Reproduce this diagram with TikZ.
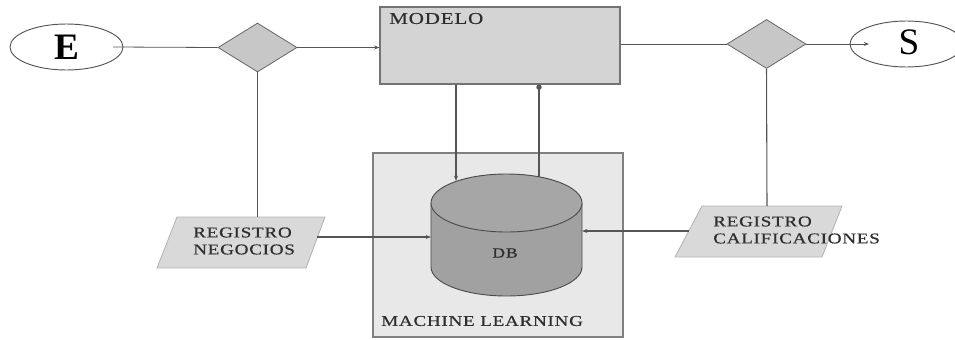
\documentclass[tikz,border=0pt]{standalone}
\usepackage{fontspec}
\setmainfont{Liberation Serif}
\newfontfamily\lbl[LetterSpace=4,FakeBold=0.5]{Liberation Serif}
\usetikzlibrary{shapes.geometric,arrows.meta}
\definecolor{txt}{HTML}{2e2e2e}
\definecolor{ln}{HTML}{555555}
\newcommand{\wide}[1]{\scalebox{1.27}[1]{#1}}
\newcommand{\twolines}[2]{\wide{\begin{tabular}{@{}l@{}}#1\\#2\end{tabular}}}
\begin{document}
\begin{tikzpicture}[x=0.75pt,y=-0.75pt,
  conn/.style={draw=ln,line width=0.8pt},
  thinconn/.style={draw=ln,line width=0.6pt},
  arr/.style={conn,-{Stealth[length=4pt,width=3pt]}},
  thinarr/.style={thinconn,-{Stealth[length=4pt,width=3pt]}},
  dotarr/.style={conn,-{Circle[length=4pt]}},
  term/.style={ellipse,draw=ln,fill=white,line width=0.7pt,inner sep=0pt,minimum width=84.75pt,minimum height=34.5pt},
  decision/.style={diamond,draw=gray!80!black,fill=black!22,line width=0.6pt,inner sep=0pt,minimum width=59.25pt,minimum height=36.75pt},
  procbox/.style={rectangle,draw=black!55,fill=black!17,line width=0.8pt,inner sep=0pt},
  groupbox/.style={rectangle,draw=black!50,fill=black!9,line width=0.8pt,inner sep=0pt},
  para/.style={fill=black!15,draw=black!30,line width=0.6pt},
  lab/.style={text=txt,inner sep=0pt,font=\lbl\fontsize{11.25}{12.75}\selectfont,align=left}
]
\useasboundingbox (0,0) rectangle (955,339);

% group box
\node[groupbox,minimum width=187.5pt,minimum height=138pt] (ml) at (498,245) {};
\node[lab,anchor=west] (mltxt) at (381,321) {\wide{MACHINE LEARNING}};

% terminals
\node[term] (E) at (66.5,47) {\fontsize{28}{30}\selectfont\bfseries\color{black}E};
\node[term] (S) at (906.5,44) {};
\node[inner sep=0pt] (Stxt) at (909,42) {\fontsize{28}{30}\selectfont\color{black}S};

% decisions
\node[decision] (d1) at (257.5,47.5) {};
\node[decision] (d2) at (766.5,44) {};

% modelo
\node[procbox,minimum width=180pt,minimum height=57.75pt] (modelo) at (500,45.5) {};
\node[lab,anchor=west,font=\lbl\fontsize{12.4}{14}\selectfont] (modtxt) at (389,18.5) {\wide{MODELO}};

% cylinder (DB)
\node[inner sep=0pt,minimum width=113.25pt,minimum height=91.5pt] (db) at (506.5,235) {};
\fill[black!37] (431,203) -- (431,267) arc[start angle=180,end angle=360,x radius=56.625pt,y radius=21.75pt] -- (582,203) arc[start angle=0,end angle=180,x radius=56.625pt,y radius=21.75pt] -- cycle;
\draw[black!70,line width=0.7pt] (431,203) -- (431,267) arc[start angle=180,end angle=360,x radius=56.625pt,y radius=21.75pt] -- (582,203);
\draw[black!70,fill=black!35,line width=0.7pt] (506.5,203) ellipse[x radius=56.625pt,y radius=21.75pt];
\node[lab,font=\lbl\fontsize{10.5}{12}\selectfont] (dbtxt) at (505,253) {\wide{DB}};

% parallelograms
\coordinate (rnTL) at (177,217); \coordinate (rnTR) at (325,217);
\coordinate (rnBR) at (306,268); \coordinate (rnBL) at (157,268);
\path[para] (rnTL) -- (rnTR) -- (rnBR) -- (rnBL) -- cycle;
\node[lab,anchor=west] (rn) at (193,242.5) {\twolines{REGISTRO}{NEGOCIOS}};

\coordinate (rcTL) at (702,206); \coordinate (rcTR) at (842,206);
\coordinate (rcBR) at (822,257); \coordinate (rcBL) at (675,257);
\path[para] (rcTL) -- (rcTR) -- (rcBR) -- (rcBL) -- cycle;
\node[lab,anchor=west] (rc) at (713,231.5) {\twolines{REGISTRO}{CALIFICACIONES}};

% connector end points
\coordinate (eIn) at (113,47);
\coordinate (sIn) at (869,44);
\coordinate (rnR) at (317,237);
\coordinate (rcL) at (689,231);
\coordinate (dbL) at (431,237);
\coordinate (dbR) at (582,231);
\coordinate (dbTopA) at (456,181);
\coordinate (dbTopB) at (539,177);
\coordinate (rnTop) at (257.5,217);
\coordinate (rcTop) at (767,206);

% connectors
\draw[thinconn] (eIn) -- (d1.west);
\draw[thinarr] (d1.east) -- (d1.east -| modelo.west);
\draw[thinconn] (modelo.east |- d2.west) -- (d2.west);
\draw[thinarr] (d2.east) -- (sIn);
\draw[conn] (d1.south) -- (rnTop);
\draw[conn] (d2.south) -- (rcTop);
\draw[arr] (rnR) -- (dbL);
\draw[arr] (rcL) -- (dbR);
\draw[arr] (dbTopA |- modelo.south) -- (dbTopA);
\draw[dotarr] (dbTopB) -- (dbTopB |- modelo.south);
\end{tikzpicture}
\end{document}
